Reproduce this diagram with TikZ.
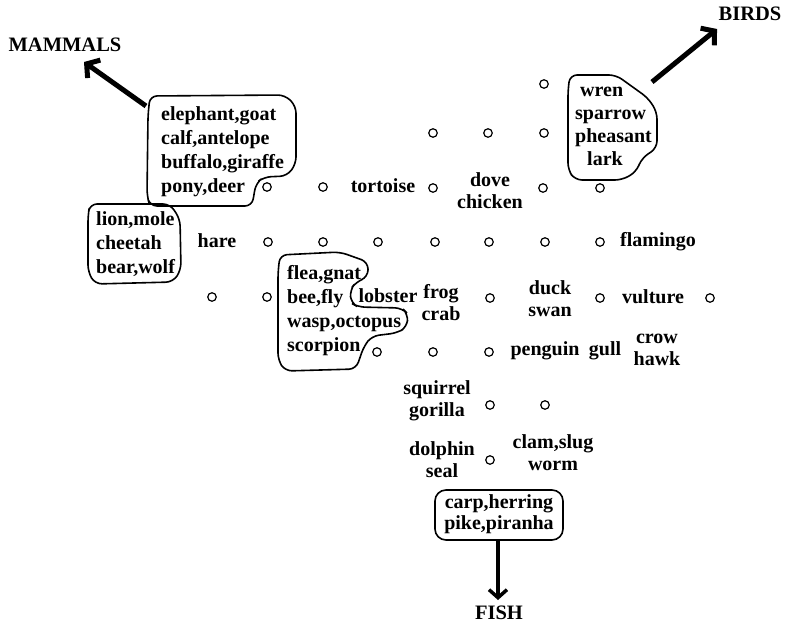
\documentclass[tikz,border=0pt]{standalone}
\usepackage{fontspec}
\setmainfont{Liberation Serif}
\usetikzlibrary{arrows.meta}
\begin{document}
\begin{tikzpicture}[x=1pt,y=-1pt,
  dot/.style={circle,draw,line width=1.2pt,minimum size=8.5pt,inner sep=0pt},
  lbl/.style={font=\fontsize{20}{22}\selectfont\bfseries,inner sep=0pt,align=center},
  lbll/.style={font=\fontsize{20}{24}\selectfont\bfseries,inner sep=0pt,align=left,anchor=west},
  blob/.style={draw,line width=1.6pt,rounded corners=7pt},
  big/.style={font=\fontsize{20.5}{24}\selectfont\bfseries,inner sep=0pt},
  fatarrow/.style={line width=5pt,-{Straight Barb[length=9pt,width=22pt]}},
  fisharrow/.style={line width=3.5pt,-{Straight Barb[length=8pt,width=18pt]}}
]
\useasboundingbox (0,0) rectangle (785,629);

% blobs
\draw[blob] (148,115) -- (150,96) -- (285,95) -- (296,106) -- (296,164) -- (287,176) -- (264,177) -- (256,183) -- (252,206) -- (150,206) -- (147,196) -- cycle;
\draw[blob] (88,215) -- (90,204) -- (170,204) -- (180,219) -- (181,270) -- (173,282) -- (95,284) -- (88,272) -- cycle;
\draw[blob] (278,272) -- (280,255) -- (340,252) -- (368,262) -- (368,277) -- (356,282) -- (350,290) -- (351,303) -- (358,307) -- (402,308) -- (408,314) -- (407,327) -- (397,333) -- (372,336) -- (364,346) -- (356,369) -- (285,371) -- (278,360) -- cycle;
\draw[blob] (568,90) -- (570,75) -- (616,75) -- (648,98) -- (657,112) -- (657,148) -- (642,158) -- (636,172) -- (622,180) -- (575,180) -- (568,170) -- cycle;
\draw[blob,rounded corners=11pt] (435,490) rectangle (563,540);

% texts in blobs
\node[lbll] (mam) at (161,152) {elephant,goat\\calf,antelope\\buffalo,giraffe\\pony,deer};
\node[lbll] (lion) at (96,244) {lion,mole\\cheetah\\bear,wolf};
\node[lbll] (ins) at (287,311) {flea,gnat\\bee,fly\\wasp,octopus\\scorpion};
\node[lbll,font=\fontsize{20}{23}\selectfont\bfseries] (bird) at (575,126) {\hspace{5pt}wren\\sparrow\\pheasant\\\hspace{12pt}lark};
\node[lbl,font=\fontsize{20}{21}\selectfont\bfseries] (fish) at (499,514) {carp,herring\\pike,piranha};

% free labels
\node[lbl] (tortoise) at (383,186) {tortoise};
\node[lbl] (dove) at (490,191) {dove\\chicken};
\node[lbl] (hare) at (217,241) {hare};
\node[lbl] (flamingo) at (658,242) {flamingo};
\node[lbl] (lobster) at (388,296) {lobster};
\node[lbl] (frog) at (441,303) {frog\\crab};
\node[lbl] (duck) at (550,299) {duck\\swan};
\node[lbl] (vulture) at (653,297) {vulture};
\node[lbl] (penguin) at (545,351) {penguin};
\node[lbl] (gull) at (605,351) {gull};
\node[lbl] (crow) at (657,350) {crow\\hawk};
\node[lbl] (squirrel) at (437,401) {squirrel\\gorilla};
\node[lbl] (dolphin) at (442,460) {dolphin\\seal};
\node[lbl] (clam) at (553,453) {clam,slug\\worm};

% category labels
\node[big] (MAMMALS) at (65,45) {MAMMALS};
\node[big] (BIRDS) at (750,14) {BIRDS};
\node[big] (FISH) at (499,613) {FISH};

% dots
\node[dot] (d1) at (544,84) {};
\node[dot] (d2) at (433,133) {};
\node[dot] (d3) at (488,133) {};
\node[dot] (d4) at (544,133) {};
\node[dot] (d5) at (267,187) {};
\node[dot] (d6) at (323,187) {};
\node[dot] (d7) at (433,188) {};
\node[dot] (d8) at (543,188) {};
\node[dot] (d9) at (600,188) {};
\node[dot] (d10) at (268,242) {};
\node[dot] (d11) at (323,242) {};
\node[dot] (d12) at (378,242) {};
\node[dot] (d13) at (435,242) {};
\node[dot] (d14) at (489,242) {};
\node[dot] (d15) at (545,242) {};
\node[dot] (d16) at (600,242) {};
\node[dot] (d17) at (212,297) {};
\node[dot] (d18) at (267,297) {};
\node[dot] (d19) at (490,298) {};
\node[dot] (d20) at (600,298) {};
\node[dot] (d21) at (710,298) {};
\node[dot] (d22) at (377,352) {};
\node[dot] (d23) at (433,352) {};
\node[dot] (d24) at (489,352) {};
\node[dot] (d25) at (490,405) {};
\node[dot] (d26) at (545,405) {};
\node[dot] (d27) at (490,460) {};

% arrows
\coordinate (mamTail) at (146,106);
\coordinate (mamTip) at (84,62);
\coordinate (birdTail) at (652,82);
\coordinate (birdTip) at (717,29);
\coordinate (fishTail) at (498,540);
\coordinate (fishTip) at (498,600);
\draw[fatarrow] (mamTail) -- (mamTip);
\draw[fatarrow] (birdTail) -- (birdTip);
\draw[fisharrow] (fishTail) -- (fishTip);
\end{tikzpicture}
\end{document}
